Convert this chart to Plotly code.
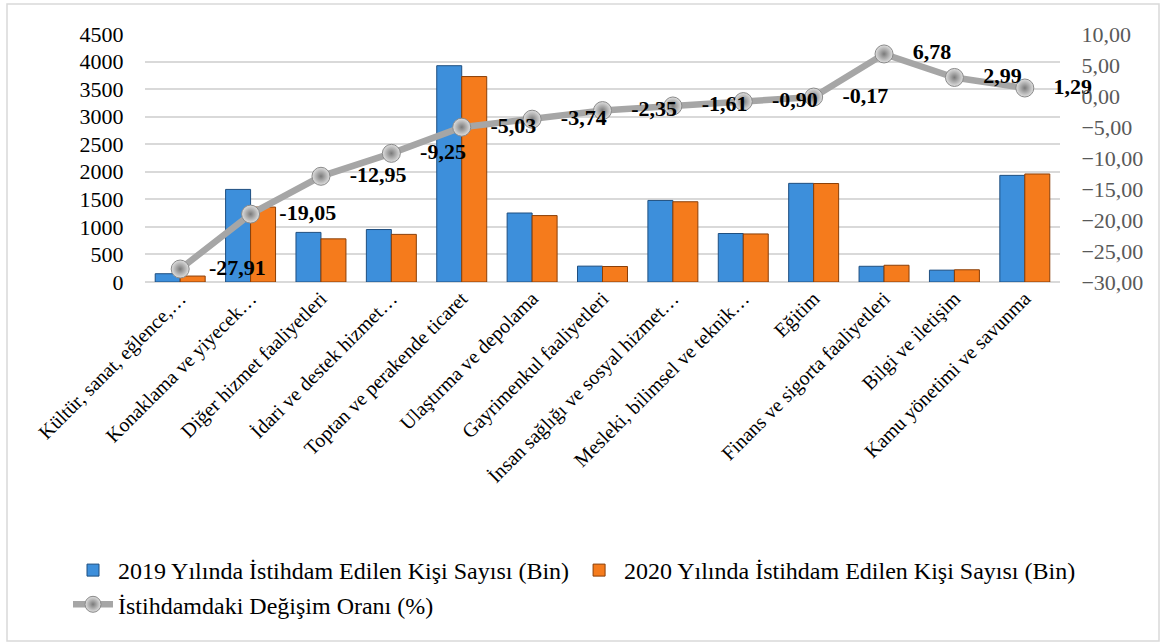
import plotly.graph_objects as go

categories = [
    "Kültür, sanat, eğlence,…",
    "Konaklama ve yiyecek…",
    "Diğer hizmet faaliyetleri",
    "İdari ve destek hizmet…",
    "Toptan ve perakende ticaret",
    "Ulaştırma ve depolama",
    "Gayrimenkul faaliyetleri",
    "İnsan sağlığı ve sosyal hizmet…",
    "Mesleki, bilimsel ve teknik…",
    "Eğitim",
    "Finans ve sigorta faaliyetleri",
    "Bilgi ve iletişim",
    "Kamu yönetimi ve savunma",
]
emp_2019 = [150, 1680, 900, 952, 3925, 1252, 288, 1480, 880, 1790, 285, 215, 1935]
emp_2020 = [108, 1360, 783, 864, 3728, 1205, 281, 1456, 872, 1787, 304, 222, 1960]
change_pct = [-27.91, -19.05, -12.95, -9.25, -5.03, -3.74, -2.35, -1.61, -0.90, -0.17, 6.78, 2.99, 1.29]

name_2019 = "2019 Yılında İstihdam Edilen Kişi Sayısı (Bin)"
name_2020 = "2020 Yılında İstihdam Edilen Kişi Sayısı (Bin)"
name_chg = "İstihdamdaki Değişim Oranı (%)"

W, H = 1161, 643
L, R, T, B = 145, 101, 34, 361
pw, ph = W - L - R, H - T - B

FONT = "Liberation Serif"

fig = go.Figure()
fig.add_trace(go.Bar(
    x=categories, y=emp_2019, name=name_2019,
    marker=dict(color="#3d8fdb", line=dict(color="#1f4f80", width=1)),
))
fig.add_trace(go.Bar(
    x=categories, y=emp_2020, name=name_2020,
    marker=dict(color="#f57b1c", line=dict(color="#8a3f08", width=1)),
))
fig.add_trace(go.Scatter(
    x=categories, y=change_pct, name=name_chg, yaxis="y2",
    mode="lines+markers+text",
    line=dict(color="#a6a6a6", width=6.5),
    marker=dict(size=18, color="#e0e0e0",
                gradient=dict(type="radial", color="#7a7a7a"),
                line=dict(color="#8a8a8a", width=1)),
    texttemplate="   %{y:.2f}",
    textposition="middle right",
    textfont=dict(family=FONT, size=22, color="#000000", weight="bold"),
    cliponaxis=False,
))

fig.update_layout(
    width=W, height=H,
    margin=dict(l=L, r=R, t=T, b=B, autoexpand=False),
    paper_bgcolor="white", plot_bgcolor="white",
    separators=",.",
    barmode="group", bargap=0.29, bargroupgap=0,
    font=dict(family=FONT, size=20, color="#000000"),
    xaxis=dict(
        range=[-0.5, len(categories) - 0.5],
        tickangle=-45, tickfont=dict(family=FONT, size=20, color="#000000"),
        showgrid=False, showline=False, ticks="", automargin=False,
    ),
    yaxis=dict(
        range=[0, 4500], dtick=500, tickformat="d",
        showgrid=True, gridcolor="#d9d9d9", gridwidth=1.5,
        zeroline=True, zerolinecolor="#d9d9d9", zerolinewidth=1.5,
        tickfont=dict(family=FONT, size=22, color="#000000"),
        ticks="outside", ticklen=16, tickcolor="rgba(0,0,0,0)",
        automargin=False,
    ),
    yaxis2=dict(
        range=[-30, 10], dtick=5, tickformat=".2f",
        overlaying="y", side="right", showgrid=False, zeroline=False,
        tickfont=dict(family=FONT, size=22, color="#595959"),
        ticks="outside", ticklen=16, tickcolor="rgba(0,0,0,0)",
        automargin=False,
    ),
    legend=dict(
        orientation="h", x=(68 - L) / pw, y=(T + ph - 548) / ph,
        xanchor="left", yanchor="top",
        font=dict(family=FONT, size=24, color="#000000"),
        traceorder="normal", itemwidth=40, tracegroupgap=0,
    ),
    showlegend=True,
    shapes=[dict(
        type="rect", xref="paper", yref="paper",
        x0=(7 - L) / pw, x1=(1159 - L) / pw,
        y0=(T + ph - 641) / ph, y1=(T + ph - 4) / ph,
        line=dict(color="#d9d9d9", width=1.5), fillcolor="rgba(0,0,0,0)",
        layer="below",
    )],
)

fig.write_html(
    "out.html",
    config={"displayModeBar": False},
    post_script="document.body.style.margin='0';document.body.style.overflow='hidden';",
)
